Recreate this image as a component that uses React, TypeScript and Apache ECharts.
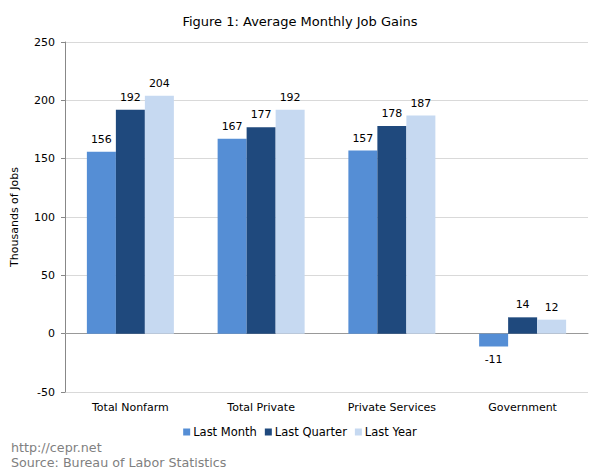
import React, { useEffect, useRef } from "react";
import * as echarts from "echarts";

const categories = ["Total Nonfarm", "Total Private", "Private Services", "Government"];
const lastMonth = [156, 167, 157, -11];
const lastQuarter = [192, 177, 178, 14];
const lastYear = [204, 192, 187, 12];
const seriesNames = ["Last Month", "Last Quarter", "Last Year"];
const colors = ["#558ED5", "#1F497D", "#C6D9F1"];

const FONT = "DejaVu Sans, Verdana, sans-serif";

export default function App() {
  const ref = useRef<HTMLDivElement>(null);
  useEffect(() => {
    const chart = echarts.init(ref.current!, null, { renderer: "svg" });
    const data = [lastMonth, lastQuarter, lastYear];
    chart.setOption({
      animation: false,
      backgroundColor: "#ffffff",
      textStyle: { fontFamily: FONT },
      title: {
        text: "Figure 1: Average Monthly Job Gains",
        left: "center",
        top: 10,
        textStyle: { fontFamily: FONT, fontSize: 13, fontWeight: "normal", color: "#000" },
      },
      legend: {
        bottom: 32,
        left: "center",
        itemWidth: 7,
        itemHeight: 7,
        itemGap: 8,
        icon: "rect",
        textStyle: { fontFamily: FONT, fontSize: 11.5, color: "#000", padding: [0, 0, 0, -2] },
        data: seriesNames,
      },
      graphic: [
        {
          type: "text",
          left: 11,
          top: 441,
          style: { text: "http://cepr.net", fontFamily: FONT, fontSize: 12.7, fill: "#808080" },
        },
        {
          type: "text",
          left: 11,
          top: 456,
          style: { text: "Source: Bureau of Labor Statistics", fontFamily: FONT, fontSize: 12.7, fill: "#808080" },
        },
      ],
      grid: { left: 65, right: 12, top: 42, bottom: 83, containLabel: false },
      xAxis: {
        type: "category",
        data: categories,
        axisLine: { onZero: true, lineStyle: { color: "#999999" } },
        axisTick: { show: false },
        axisLabel: { fontFamily: FONT, fontSize: 11, color: "#000", interval: 0, margin: 10 },
        position: "bottom",
      },
      yAxis: {
        type: "value",
        min: -50,
        max: 250,
        interval: 50,
        name: "Thousands of Jobs",
        nameLocation: "middle",
        nameGap: 45,
        nameRotate: 90,
        nameTextStyle: { fontFamily: FONT, fontSize: 11, color: "#000" },
        axisLine: { show: true, lineStyle: { color: "#888888" } },
        axisTick: { show: true, length: 4, lineStyle: { color: "#888888" } },
        axisLabel: { fontFamily: FONT, fontSize: 11, color: "#000", margin: 10 },
        splitLine: { lineStyle: { color: "#d9d9d9" } },
      },
      series: seriesNames.map((name, i) => ({
        name,
        type: "bar",
        data: data[i],
        barWidth: 29,
        barGap: "0%",
        itemStyle: { color: colors[i] },
        label: {
          show: true,
          position: "outside",
          distance: 7,
          fontFamily: FONT,
          fontSize: 11,
          color: "#000",
        },
      })),
    });
    return () => chart.dispose();
  }, []);
  return (
    <div
      ref={ref}
      style={{ position: "fixed", left: 0, top: 0, width: 600, height: 475 }}
    />
  );
}
